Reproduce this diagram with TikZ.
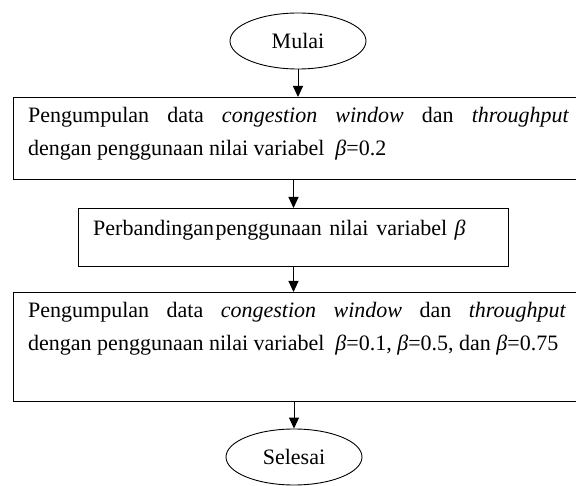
\documentclass[tikz,border=0pt]{standalone}
\usepackage{fontspec}
\setmainfont{Liberation Serif}
\usetikzlibrary{arrows.meta,shapes.geometric}
\begin{document}
\begin{tikzpicture}[x=1pt,y=-1pt,
  box/.style={draw, line width=1pt, rectangle, inner sep=0, anchor=north west},
  term/.style={draw, line width=0.9pt, ellipse, minimum width=136pt, minimum height=56pt, inner sep=0, font=\fontsize{22}{33}\selectfont},
  txt/.style={anchor=north west, inner sep=0, align=justify, font=\fontsize{22}{33}\selectfont},
  arr/.style={line width=1pt, -{Triangle[length=11pt,width=10pt]}}]
\useasboundingbox (0,0) rectangle (576,486);
\clip (0,0) rectangle (576,486);
\fill[white] (0,0) rectangle (576,486);
% terminals
\node[term] (mulai) at (298,41) {Mulai};
\node[term] (selesai) at (294,457) {Selesai};
% boxes
\node[box, minimum width=568pt, minimum height=82pt] (b1) at (13,97) {};
\node[box, minimum width=430pt, minimum height=58pt] (b2) at (78,208) {};
\node[box, minimum width=568pt, minimum height=109pt] (b3) at (13,292) {};
% texts
\node[txt, text width=541pt] (t1) at (28,107) {Pengumpulan data \textit{congestion window} dan \textit{throughput}\linebreak dengan penggunaan nilai variabel\ \ \textit{β}=0.2};
\node[txt, text width=400pt, align=left] (t2) at (93,220) {Perbandingan\hspace{1.5pt}penggunaan nilai\hspace{8pt}variabel \textit{β}};
\node[txt, text width=538pt] (t3) at (28,302) {Pengumpulan data \textit{congestion window} dan \textit{throughput}\linebreak dengan penggunaan nilai variabel\ \ \textit{β}=0.1, \textit{β}=0.5, dan \textit{β}=0.75};
% connectors
\draw[arr] (mulai.south) -- (mulai.south |- b1.north);
\draw[arr] (b1.south -| b2.north) -- (b2.north);
\draw[arr] (b2.south) -- (b2.south |- b3.north);
\draw[arr] (b3.south -| selesai.north) -- (selesai.north);
\end{tikzpicture}
\end{document}
